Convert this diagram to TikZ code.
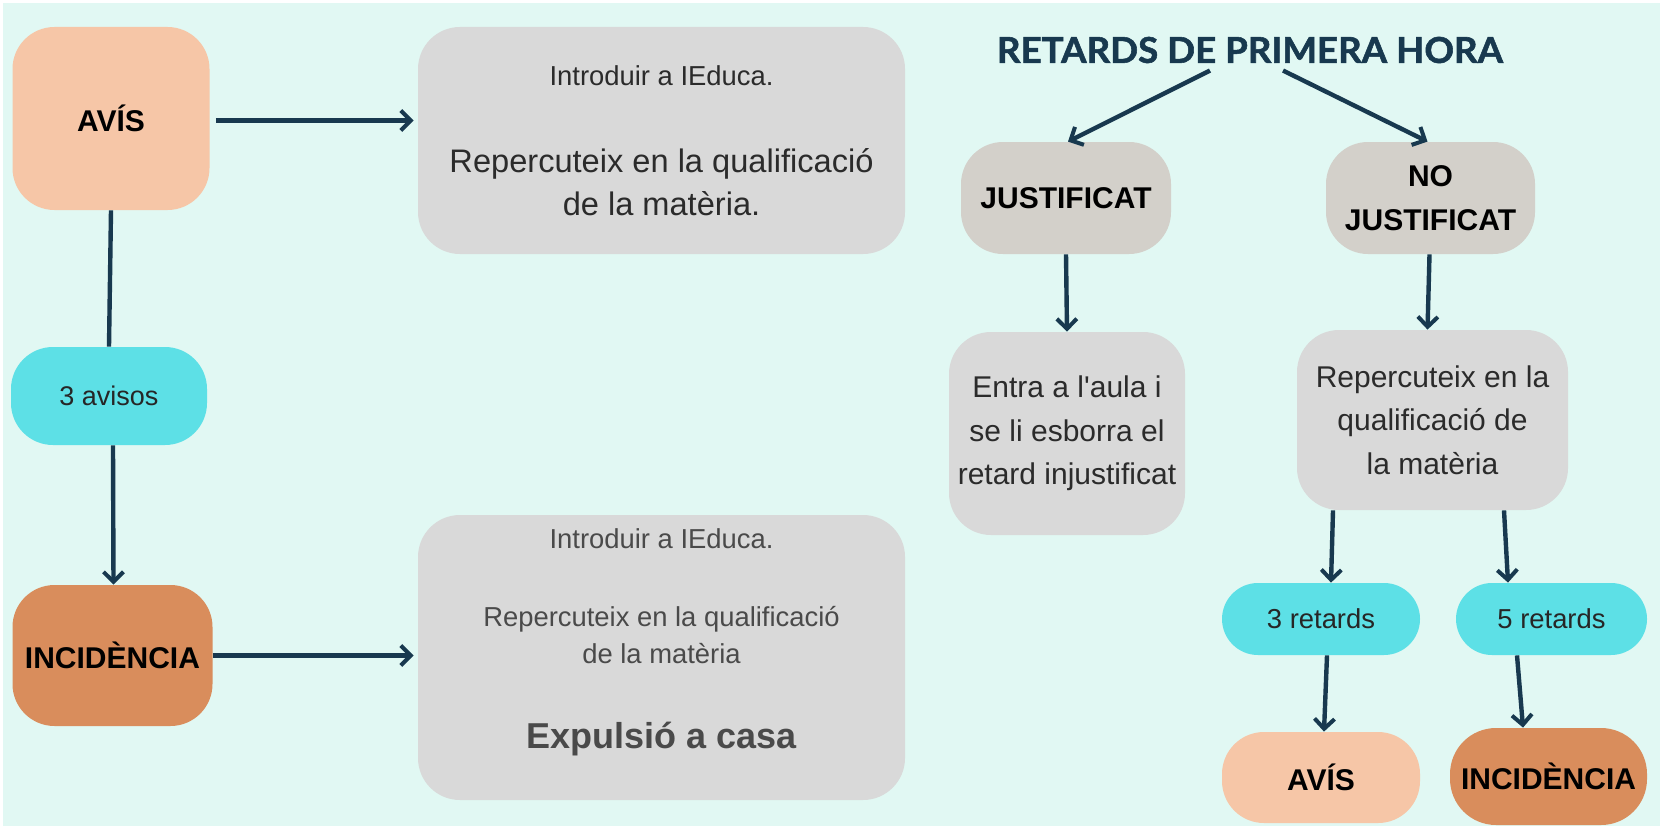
\documentclass[tikz,border=0pt]{standalone}
\usepackage{fontspec}
\setmainfont{Liberation Sans}
\newfontfamily\plainfont{Liberation Sans}
\newfontfamily\titlefont{Lato}[BoldFeatures={FakeBold=1.5}]
\usetikzlibrary{arrows.meta}
\definecolor{mint}{HTML}{E1F8F3}
\definecolor{peach}{HTML}{F6C6A7}
\definecolor{orange}{HTML}{D98D5C}
\definecolor{cyanbox}{HTML}{5DE0E6}
\definecolor{greybox}{HTML}{D9D9D9}
\definecolor{warmgrey}{HTML}{D3D0CA}
\definecolor{navy}{HTML}{18394F}
\definecolor{txtA}{HTML}{2B2B2B}
\definecolor{txtB}{HTML}{4A4A4A}
\tikzset{
  box/.style={rounded corners=21pt, inner sep=0pt, align=center, text=black},
  lbl/.style={font=\fontsize{15}{22}\selectfont\bfseries},
  body/.style={font=\fontsize{15}{21.75}\selectfont, text=txtA},
  small/.style={font=\fontsize{13.7}{16}\selectfont},
  line/.style={draw=navy, line width=2.2pt},
  arr/.style={line, -{Straight Barb[length=5pt,width=10pt,line width=2pt]}},
}
\begin{document}
\begin{tikzpicture}[x=0.5pt,y=-0.5pt]
\useasboundingbox (0,0) rectangle (1663,829);
\fill[white] (0,0) rectangle (1663,829);
\fill[mint] (3,3) rectangle (1660,826);

% left column
\node[box, lbl, fill=peach, minimum width=98.5pt, minimum height=91.5pt] (avis1) at (111,118.5) {AVÍS};
\node[box, fill=cyanbox, minimum width=98pt, minimum height=49pt, font=\fontsize{13.5}{16}\selectfont, text=black!85] (avisos) at (109,396) {3 avisos};
\node[box, lbl, fill=orange, minimum width=100pt, minimum height=70.5pt] (incid1) at (112.5,655.5) {INCIDÈNCIA};

\node[box, fill=greybox, minimum width=243.5pt, minimum height=113.5pt] (grey1) at (661.5,140.5) {};
\node[anchor=base, small, text=txtA, inner sep=0pt] (g1a) at (661.5,86) {Introduir a IEduca.};
\node[anchor=base, font=\fontsize{16.3}{20}\selectfont, text=txtA, inner sep=0pt] (g1b) at (661.5,172) {Repercuteix en la qualificació};
\node[anchor=base, font=\fontsize{16.3}{20}\selectfont, text=txtA, inner sep=0pt] (g1c) at (661.5,215) {de la matèria.};

\node[box, fill=greybox, minimum width=243.5pt, minimum height=142.5pt] (grey2) at (661.5,657.5) {};
\node[anchor=base, small, text=txtB, inner sep=0pt] (g2a) at (661.5,548) {Introduir a IEduca.};
\node[anchor=base, small, text=txtB, inner sep=0pt] (g2b) at (661.5,626) {Repercuteix en la qualificació};
\node[anchor=base, small, text=txtB, inner sep=0pt] (g2c) at (661.5,663) {de la matèria};
\node[anchor=base, font=\fontsize{18}{22}\selectfont\bfseries, text=txtB, inner sep=0pt] (g2d) at (661.5,748) {Expulsió a casa};

\draw[arr, shorten >=2pt] ([xshift=3pt,yshift=-1pt]avis1.east) -- ([yshift=-1pt]avis1.east -| grey1.west);
\draw[line] (avis1.south) -- (avisos.north);
\draw[arr] ([xshift=2pt]avisos.south) -- ([xshift=0.5pt]incid1.north);
\draw[arr, shorten >=2pt] (incid1.east) -- (incid1.east -| grey2.west);

% right part
\node[inner sep=0pt, text=navy] (title) at (1250,50) {\resizebox{253pt}{13pt}{\titlefont\bfseries RETARDS DE PRIMERA HORA}};

\node[box, lbl, fill=warmgrey, minimum width=105pt, minimum height=56pt] (just) at (1066,198) {JUSTIFICAT};
\node[box, lbl, fill=warmgrey, minimum width=104.5pt, minimum height=56pt] (nojust) at (1430.5,198) {NO\\JUSTIFICAT};
\node[box, body, fill=greybox, minimum width=118pt, minimum height=101.5pt] (entra) at (1067,433.5) {Entra a l{\plainfont'}aula i\\se li esborra el\\retard injustificat};
\node[box, body, fill=greybox, minimum width=135.5pt, minimum height=90pt] (rep) at (1432.5,420) {Repercuteix en la\\qualificació de\\la matèria};
\node[box, fill=cyanbox, minimum width=99pt, minimum height=36pt, rounded corners=18pt, font=\fontsize{13.7}{16}\selectfont, text=black!85] (r3) at (1321,619) {3 retards};
\node[box, fill=cyanbox, minimum width=95.5pt, minimum height=36pt, rounded corners=18pt, font=\fontsize{13.7}{16}\selectfont, text=black!85] (r5) at (1551.5,619) {5 retards};
\node[box, lbl, fill=peach, minimum width=99pt, minimum height=45.5pt] (avis2) at (1321,777.5) {AVÍS};
\node[box, lbl, fill=orange, minimum width=98.5pt, minimum height=48.5pt, rounded corners=23pt] (incid2) at (1548.5,776.5) {INCIDÈNCIA};

\draw[arr] ([xshift=-20pt,yshift=-3.5pt]title.south) -- ([xshift=1pt]just.north);
\draw[arr] ([xshift=16.5pt,yshift=-3.5pt]title.south) -- ([xshift=-1.5pt]nojust.north);
\draw[arr] (just.south) -- (entra.north);
\draw[arr] ([xshift=-0.5pt]nojust.south) -- ([xshift=-2.5pt]rep.north);
\draw[arr] ([xshift=-49.75pt]rep.south) -- ([xshift=5pt]r3.north);
\draw[arr] ([xshift=35.75pt]rep.south) -- ([xshift=-21.75pt]r5.north);
\draw[arr] ([xshift=3pt]r3.south) -- ([xshift=1.5pt]avis2.north);
\draw[arr] ([xshift=-17.25pt]r5.south) -- ([xshift=-12.75pt]incid2.north);
\end{tikzpicture}
\end{document}
